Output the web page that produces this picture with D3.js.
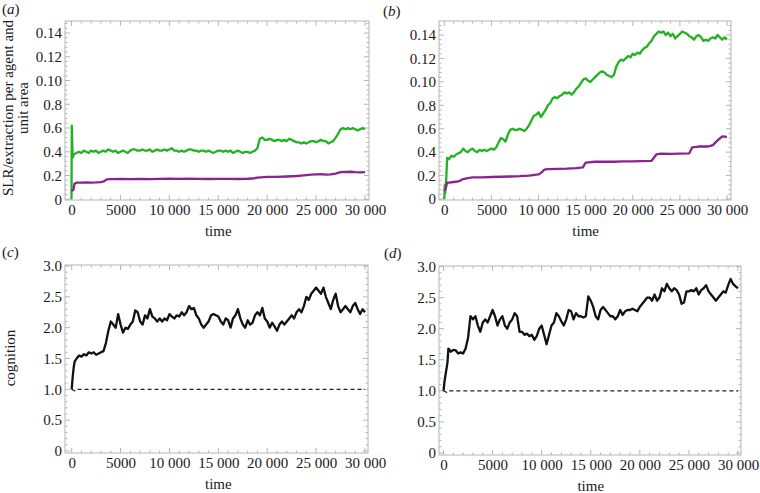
<!DOCTYPE html>
<html><head><meta charset="utf-8">
<script src="https://cdn.jsdelivr.net/npm/d3@7/dist/d3.min.js"></script>
<style>body{margin:0;background:#fff}svg{display:block}text{font-family:"Liberation Serif","Times New Roman",serif;fill:#1a1a1a}</style>
</head><body><svg id="c" width="760" height="493"></svg>
<script>
// ---- data ----
const xTicks = [0, 5000, 10000, 15000, 20000, 25000, 30000];
const xTickLabels = ["0", "5000", "10 000", "15 000", "20 000", "25 000", "30 000"];
const slrTicks = [0, 0.02, 0.04, 0.06, 0.08, 0.10, 0.12, 0.14];
const slrTickLabels = ["0", "0.2", "0.4", "0.6", "0.8", "0.10", "0.12", "0.14"];
const cogTicks = [0, 0.5, 1.0, 1.5, 2.0, 2.5, 3.0];
const cogTickLabels = ["0", "0.5", "1.0", "1.5", "2.0", "2.5", "3.0"];

const greenA = [[0,0],[30,0.062],[120,0.035],[250,0.038],[500,0.039],[750,0.040],[1000,0.039],[1250,0.041],[1500,0.040],[1750,0.039],[2000,0.041],[2250,0.040],[2500,0.041],[2750,0.039],[3000,0.040],[3250,0.041],[3500,0.040],[3750,0.042],[4000,0.041],[4250,0.040],[4500,0.041],[4750,0.039],[5000,0.040],[5250,0.041],[5500,0.040],[5750,0.039],[6000,0.041],[6250,0.042],[6500,0.042],[6750,0.041],[7000,0.041],[7250,0.042],[7500,0.041],[7750,0.041],[8000,0.042],[8250,0.040],[8500,0.041],[8750,0.042],[9000,0.041],[9250,0.041],[9500,0.042],[9750,0.041],[10000,0.042],[10250,0.043],[10500,0.041],[10750,0.041],[11000,0.040],[11250,0.041],[11500,0.040],[11750,0.041],[12000,0.042],[12250,0.042],[12500,0.041],[12750,0.041],[13000,0.040],[13250,0.041],[13500,0.041],[13750,0.040],[14000,0.041],[14250,0.040],[14500,0.039],[14750,0.040],[15000,0.041],[15250,0.041],[15500,0.040],[15750,0.041],[16000,0.040],[16250,0.041],[16500,0.039],[16750,0.040],[17000,0.041],[17250,0.040],[17500,0.039],[17750,0.040],[18000,0.040],[18250,0.039],[18500,0.040],[18750,0.041],[19000,0.043],[19250,0.051],[19500,0.052],[19750,0.050],[20000,0.050],[20250,0.051],[20500,0.050],[20750,0.049],[21000,0.050],[21250,0.050],[21500,0.049],[21750,0.050],[22000,0.049],[22250,0.051],[22500,0.050],[22750,0.049],[23000,0.048],[23250,0.048],[23500,0.047],[23750,0.048],[24000,0.047],[24250,0.048],[24500,0.049],[24750,0.049],[25000,0.048],[25250,0.049],[25500,0.050],[25750,0.049],[26000,0.049],[26250,0.047],[26500,0.048],[26750,0.049],[27000,0.052],[27250,0.055],[27500,0.059],[27750,0.060],[28000,0.059],[28250,0.060],[28500,0.059],[28750,0.060],[29000,0.059],[29250,0.058],[29500,0.059],[29750,0.060],[30000,0.059]];
const purpleA = [[0,0.007],[200,0.008],[300,0.013],[500,0.014],[1000,0.014],[1500,0.0142],[2000,0.014],[2500,0.0142],[3000,0.0145],[3300,0.015],[3600,0.0168],[4000,0.017],[5000,0.0172],[6000,0.017],[7000,0.0172],[8000,0.017],[9000,0.0172],[10000,0.0173],[11000,0.0172],[12000,0.0174],[13000,0.0172],[14000,0.0171],[15000,0.0172],[16000,0.0172],[17000,0.0171],[18000,0.0173],[18500,0.0175],[19000,0.0183],[20000,0.0188],[21000,0.0188],[22000,0.0192],[23000,0.0196],[23500,0.0200],[24500,0.0207],[25500,0.0212],[26000,0.0207],[26500,0.0210],[27000,0.0216],[27500,0.0228],[28000,0.0230],[28500,0.0232],[29000,0.0228],[29500,0.0226],[30000,0.0228]];
const greenB = [[0,0],[50,0.012],[100,0.005],[200,0.016],[300,0.035],[500,0.034],[750,0.037],[1000,0.036],[1250,0.038],[1500,0.039],[1750,0.040],[2000,0.043],[2250,0.041],[2500,0.040],[2750,0.042],[3000,0.043],[3250,0.041],[3500,0.040],[3750,0.042],[4000,0.041],[4250,0.042],[4500,0.041],[4750,0.042],[5000,0.043],[5250,0.042],[5500,0.044],[5750,0.048],[6000,0.052],[6250,0.051],[6500,0.049],[6750,0.055],[7000,0.059],[7250,0.060],[7500,0.059],[7750,0.059],[8000,0.060],[8250,0.059],[8500,0.058],[8750,0.060],[9000,0.063],[9250,0.067],[9500,0.071],[9750,0.072],[10000,0.074],[10250,0.070],[10500,0.073],[10750,0.076],[11000,0.080],[11250,0.082],[11500,0.086],[11750,0.087],[12000,0.086],[12250,0.088],[12500,0.089],[12750,0.091],[13000,0.090],[13250,0.091],[13500,0.089],[13750,0.091],[14000,0.094],[14250,0.096],[14500,0.099],[14750,0.102],[15000,0.103],[15250,0.101],[15500,0.100],[15750,0.102],[16000,0.104],[16250,0.106],[16500,0.108],[16750,0.109],[17000,0.108],[17250,0.106],[17500,0.105],[17750,0.104],[18000,0.106],[18250,0.113],[18500,0.117],[18750,0.119],[19000,0.118],[19250,0.120],[19500,0.122],[19750,0.121],[20000,0.124],[20250,0.123],[20500,0.125],[20750,0.124],[21000,0.127],[21250,0.129],[21500,0.130],[21750,0.133],[22000,0.135],[22250,0.139],[22500,0.141],[22750,0.143],[23000,0.142],[23250,0.143],[23500,0.140],[23750,0.142],[24000,0.139],[24250,0.141],[24500,0.137],[24750,0.139],[25000,0.141],[25250,0.143],[25500,0.142],[25750,0.141],[26000,0.139],[26250,0.138],[26500,0.136],[26750,0.139],[27000,0.140],[27250,0.138],[27500,0.135],[27750,0.136],[28000,0.135],[28250,0.137],[28500,0.138],[28750,0.137],[29000,0.140],[29250,0.138],[29500,0.136],[29750,0.138],[30000,0.136]];
const purpleB = [[0,0.007],[150,0.009],[300,0.014],[500,0.014],[1000,0.0145],[1500,0.015],[2000,0.017],[2500,0.0178],[3000,0.0185],[4000,0.0184],[5000,0.0188],[6000,0.019],[7000,0.0192],[8000,0.0195],[9000,0.020],[10000,0.021],[10300,0.0225],[10600,0.025],[11000,0.0255],[12000,0.0258],[13000,0.026],[14000,0.0264],[14700,0.027],[15000,0.031],[16000,0.0318],[17000,0.0318],[18000,0.0318],[19000,0.0322],[20000,0.0322],[21000,0.0324],[22000,0.0326],[22500,0.038],[23000,0.0388],[24000,0.0386],[25000,0.0388],[26000,0.039],[26300,0.044],[27000,0.0448],[28000,0.0448],[28500,0.046],[29000,0.050],[29500,0.0535],[30000,0.0530]];
const cogC = [[0,1.0],[100,1.2],[200,1.35],[300,1.45],[500,1.5],[750,1.55],[1000,1.53],[1250,1.57],[1500,1.55],[1750,1.6],[2000,1.58],[2250,1.6],[2500,1.56],[2750,1.58],[3000,1.6],[3250,1.62],[3500,1.75],[3750,1.95],[4000,2.1],[4250,2.05],[4500,2.0],[4750,2.22],[5000,2.05],[5250,1.92],[5500,2.0],[5750,1.98],[6000,2.05],[6250,2.1],[6500,2.28],[6750,2.25],[7000,2.1],[7250,2.05],[7500,2.2],[7750,2.15],[8000,2.3],[8250,2.18],[8500,2.15],[8750,2.1],[9000,2.15],[9250,2.1],[9500,2.15],[9750,2.12],[10000,2.22],[10250,2.18],[10500,2.15],[10750,2.2],[11000,2.18],[11250,2.25],[11500,2.2],[11750,2.25],[12000,2.35],[12250,2.3],[12500,2.32],[12750,2.2],[13000,2.15],[13250,2.05],[13500,2.0],[13750,2.05],[14000,2.1],[14250,2.2],[14500,2.22],[14750,2.2],[15000,2.18],[15250,2.1],[15500,2.05],[15750,2.15],[16000,2.12],[16250,2.0],[16500,2.15],[16750,2.2],[17000,2.3],[17250,2.15],[17500,2.05],[17750,2.0],[18000,2.12],[18250,2.05],[18500,2.08],[18750,2.2],[19000,2.25],[19250,2.2],[19500,2.32],[19750,2.15],[20000,2.1],[20250,2.0],[20500,2.08],[20750,2.02],[21000,1.95],[21250,2.05],[21500,2.1],[21750,2.05],[22000,2.1],[22250,2.15],[22500,2.2],[22750,2.15],[23000,2.25],[23250,2.3],[23500,2.25],[23750,2.35],[24000,2.5],[24250,2.45],[24500,2.55],[24750,2.6],[25000,2.65],[25250,2.6],[25500,2.55],[25750,2.65],[26000,2.5],[26250,2.4],[26500,2.3],[26750,2.45],[27000,2.55],[27250,2.35],[27500,2.25],[27750,2.3],[28000,2.35],[28250,2.3],[28500,2.25],[28750,2.35],[29000,2.4],[29250,2.3],[29500,2.22],[29750,2.3],[30000,2.25]];
const cogD = [[0,1.0],[100,1.15],[250,1.3],[400,1.45],[500,1.68],[750,1.63],[1000,1.66],[1250,1.65],[1500,1.6],[1750,1.62],[2000,1.6],[2250,1.68],[2500,1.85],[2750,2.2],[3000,2.15],[3250,2.2],[3500,2.05],[3750,1.95],[4000,2.1],[4250,2.15],[4500,2.1],[4750,2.2],[5000,2.3],[5250,2.2],[5500,2.05],[5750,2.15],[6000,2.2],[6250,2.05],[6500,2.0],[6750,2.1],[7000,2.15],[7250,2.25],[7500,2.2],[7750,1.95],[8000,1.95],[8250,1.9],[8500,1.92],[8750,1.88],[9000,1.9],[9250,1.82],[9500,1.88],[9750,2.0],[10000,2.05],[10250,1.9],[10500,1.75],[10750,1.9],[11000,2.05],[11250,2.1],[11500,2.25],[11750,2.2],[12000,2.12],[12250,2.05],[12500,2.15],[12750,2.3],[13000,2.28],[13250,2.15],[13500,2.25],[13750,2.2],[14000,2.2],[14250,2.18],[14500,2.2],[14750,2.52],[15000,2.45],[15250,2.35],[15500,2.2],[15750,2.15],[16000,2.3],[16250,2.35],[16500,2.3],[16750,2.25],[17000,2.2],[17250,2.2],[17500,2.15],[17750,2.2],[18000,2.3],[18250,2.22],[18500,2.28],[18750,2.3],[19000,2.3],[19250,2.32],[19500,2.3],[19750,2.28],[20000,2.35],[20250,2.4],[20500,2.45],[20750,2.5],[21000,2.5],[21250,2.45],[21500,2.55],[21750,2.45],[22000,2.5],[22250,2.65],[22500,2.6],[22750,2.72],[23000,2.65],[23250,2.6],[23500,2.65],[23750,2.62],[24000,2.55],[24250,2.4],[24500,2.42],[24750,2.6],[25000,2.6],[25250,2.62],[25500,2.6],[25750,2.65],[26000,2.55],[26250,2.62],[26500,2.65],[26750,2.7],[27000,2.6],[27250,2.55],[27500,2.5],[27750,2.45],[28000,2.5],[28250,2.55],[28500,2.6],[28750,2.58],[29000,2.7],[29250,2.8],[29500,2.72],[29750,2.68],[30000,2.65]];
const baseline = [[0,1.0],[200,0.985],[400,0.97],[600,1.0],[30000,1.0]];

// ---- drawing ----
const svg = d3.select("#c");
const GREEN = "#22b222", PURPLE = "#8a238f", FRAME = "#b5b5b5";

function panel(o) {
  const g = svg.append("g");
  const x = d3.scaleLinear().domain([0, 30000]).range([o.x0, o.x1]);
  const y = d3.scaleLinear().domain([0, o.yTop]).range([o.y0, o.y1]);
  g.append("rect").attr("x", o.fl).attr("y", o.ft).attr("width", o.fr - o.fl).attr("height", o.fb - o.ft)
    .attr("fill", "none").attr("stroke", FRAME).attr("stroke-width", 1);
  const tk = g.append("g").attr("stroke", FRAME).attr("stroke-width", 1);
  const xMinor = d3.range(0, 30001, 1000);
  xMinor.forEach(v => {
    const L = v % 5000 === 0 ? 5 : 2.5;
    tk.append("line").attr("x1", x(v)).attr("x2", x(v)).attr("y1", o.fb).attr("y2", o.fb - L);
    tk.append("line").attr("x1", x(v)).attr("x2", x(v)).attr("y1", o.ft).attr("y2", o.ft + L);
  });
  o.yMinor.forEach(v => {
    const major = o.ticks.some(t => Math.abs(t - v) < 1e-9);
    const L = major ? 5 : 2.5;
    tk.append("line").attr("y1", y(v)).attr("y2", y(v)).attr("x1", o.fl).attr("x2", o.fl + L);
    tk.append("line").attr("y1", y(v)).attr("y2", y(v)).attr("x1", o.fr).attr("x2", o.fr - L);
  });
  const xa = d3.axisBottom(x).tickValues(xTicks).tickFormat((d, i) => xTickLabels[i]).tickSize(0).tickPadding(0);
  const gx = g.append("g").attr("transform", `translate(0,${o.fb + 4})`).call(xa);
  gx.select(".domain").remove();
  gx.selectAll("text").attr("font-size", 15).attr("font-family", "Liberation Serif").attr("fill", "#1a1a1a").attr("dy", "0.71em");
  const ya = d3.axisLeft(y).tickValues(o.ticks).tickFormat((d, i) => o.labels[i]).tickSize(0).tickPadding(0);
  const gy = g.append("g").attr("transform", `translate(${o.fl - 3},0)`).call(ya);
  gy.select(".domain").remove();
  gy.selectAll("text").attr("font-size", 15).attr("font-family", "Liberation Serif").attr("fill", "#1a1a1a");
  const line = d3.line().x(d => x(d[0])).y(d => y(d[1]));
  o.series.forEach(s => {
    g.append("path").datum(s.data).attr("d", line).attr("fill", "none")
      .attr("stroke", s.color).attr("stroke-width", s.w || 2.3).attr("stroke-linejoin", "round")
      .attr("stroke-dasharray", s.dash || null);
  });
  g.append("text").attr("x", (o.x0 + o.x1) / 2).attr("y", o.fb + 36).attr("text-anchor", "middle")
    .attr("font-size", 15).text("time");
  const pl = g.append("text").attr("x", o.lx).attr("y", o.ly).attr("font-size", 15);
  pl.append("tspan").text("(");
  pl.append("tspan").attr("font-style", "italic").text(o.letter);
  pl.append("tspan").text(")");
  return g;
}

const slrMinor = d3.range(0, 0.1501, 0.004);
const cogMinor = d3.range(0, 3.0001, 0.1);

panel({x0: 71.5, x1: 365, fl: 65, fr: 369, ft: 21, fb: 200, y0: 199.3, y1: 33, yTop: 0.14,
  ticks: slrTicks, labels: slrTickLabels, yMinor: slrMinor, letter: "a", lx: 2, ly: 14,
  series: [{data: greenA, color: GREEN}, {data: purpleA, color: PURPLE}]});
panel({x0: 444.3, x1: 727, fl: 439, fr: 731, ft: 21, fb: 200, y0: 199, y1: 35, yTop: 0.14,
  ticks: slrTicks, labels: slrTickLabels, yMinor: slrMinor, letter: "b", lx: 383, ly: 16,
  series: [{data: greenB, color: GREEN}, {data: purpleB, color: PURPLE}]});
panel({x0: 71.7, x1: 365, fl: 65, fr: 368, ft: 265, fb: 453, y0: 451, y1: 266, yTop: 3,
  ticks: cogTicks, labels: cogTickLabels, yMinor: cogMinor, letter: "c", lx: 2, ly: 257,
  series: [{data: baseline, color: "#222", w: 1.3, dash: "4,3"}, {data: cogC, color: "#111", w: 2.3}]});
panel({x0: 443.5, x1: 738, fl: 439, fr: 741, ft: 266, fb: 455, y0: 453, y1: 266.5, yTop: 3,
  ticks: cogTicks, labels: cogTickLabels, yMinor: cogMinor, letter: "d", lx: 384, ly: 258,
  series: [{data: baseline, color: "#222", w: 1.3, dash: "4,3"}, {data: cogD, color: "#111", w: 2.3}]});

const yt = svg.append("text").attr("transform", "translate(13,108) rotate(-90)").attr("text-anchor", "middle").attr("font-size", 15);
yt.append("tspan").attr("x", 0).attr("dy", 0).text("SLR/extraction per agent and");
yt.append("tspan").attr("x", 0).attr("dy", 15).text("unit area");
svg.append("text").attr("transform", "translate(15,358) rotate(-90)").attr("text-anchor", "middle").attr("font-size", 15).text("cognition");
</script></body></html>
